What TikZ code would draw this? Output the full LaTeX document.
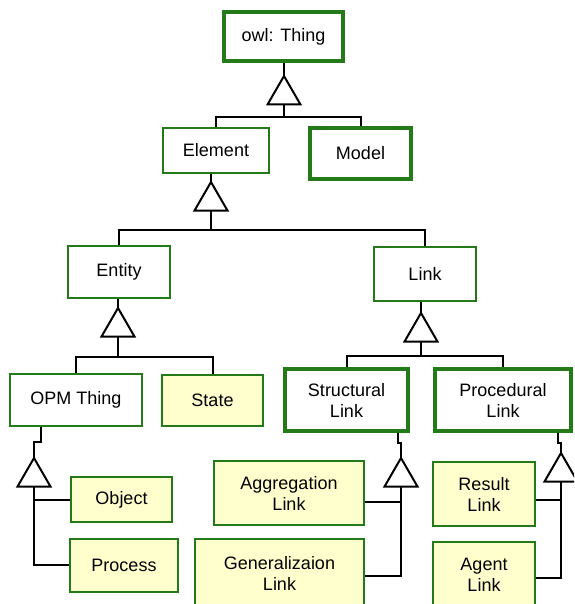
\documentclass[tikz,border=0pt]{standalone}
\usepackage{fontspec}
\setmainfont{Liberation Sans}
\usetikzlibrary{shapes.geometric}
\definecolor{boxgreen}{RGB}{36,122,24}
\definecolor{paleyellow}{RGB}{255,255,206}
\begin{document}
\begin{tikzpicture}[x=1pt,y=-1pt]
        \useasboundingbox (0,0) rectangle (574,604);
        \clip (0,0) rectangle (574,604);
        \tikzstyle{class}=[rectangle, draw=boxgreen, line width=2pt, fill=white, inner sep=2pt, align=center, font=\fontsize{18}{21}\selectfont, text=black]
        \tikzstyle{keyclass}=[class, line width=4pt]
        \tikzstyle{leaf}=[class, fill=paleyellow]
        \tikzstyle{isa}=[regular polygon, regular polygon sides=3, draw=black, line width=2pt, fill=white, minimum size=38pt, inner sep=0pt, outer sep=0pt]
        \tikzstyle{edge}=[black, line width=2pt]

        \node[keyclass, minimum width=119pt, minimum height=49pt] (thing)   at (283.5,36.5) {owl: Thing};
        \node[class,    minimum width=106pt, minimum height=45pt] (elem)    at (216,150.5)  {Element};
        \node[keyclass, minimum width=101pt, minimum height=51pt] (model)   at (360.5,153.5) {Model};
        \node[class,    minimum width=102pt, minimum height=52pt] (entity)  at (119,272)    {Entity};
        \node[class,    minimum width=102pt, minimum height=54pt] (link)    at (425,274)    {Link};
        \node[class,    minimum width=132pt, minimum height=52pt] (opm)     at (76,400)     {OPM Thing};
        \node[leaf,     minimum width=101pt, minimum height=51pt] (state)   at (212.5,400.5) {State};
        \node[keyclass, minimum width=123pt, minimum height=62pt] (struct)  at (346.5,400)  {Structural\\Link};
        \node[keyclass, minimum width=136pt, minimum height=62pt] (proc)    at (503,400)    {Procedural\\Link};
        \node[leaf,     minimum width=101pt, minimum height=45pt] (object)  at (121.5,499.5) {Object};
        \node[leaf,     minimum width=108pt, minimum height=53pt] (process) at (124,565)    {Process};
        \node[leaf,     minimum width=150pt, minimum height=64pt] (aggr)    at (289,493)    {Aggregation\\Link};
        \node[leaf,     minimum width=169pt, minimum height=68pt] (gener)   at (279.5,573)  {Generalizaion\\Link};
        \node[leaf,     minimum width=102pt, minimum height=64pt] (result)  at (484,494)    {Result\\Link};
        \node[leaf,     minimum width=102pt, minimum height=66pt] (agent)   at (484,575)    {Agent\\Link};

        \node[isa] (t1) at (284,95)  {};
        \node[isa] (t2) at (211,201) {};
        \node[isa] (t3) at (118,327) {};
        \node[isa] (t4) at (421,332) {};
        \node[isa] (t5) at (34,477)  {};
        \node[isa] (t6) at (401,477) {};
        \node[isa] (t7) at (561,472) {};

        \coordinate (j1) at (284,117);
        \coordinate (j2) at (211,230);
        \coordinate (j3) at (118,357);
        \coordinate (j4) at (421,356);

        \draw[edge] (t1.corner 1) -- (t1.corner 1 |- thing.south);
        \draw[edge] (t1.side 2) -- (j1);
        \draw[edge] (elem.north) |- (j1) -| (model.north);

        \draw[edge] (t2.corner 1) -- (t2.corner 1 |- elem.south);
        \draw[edge] (t2.side 2) -- (j2);
        \draw[edge] (entity.north) |- (j2) -| (link.north);

        \draw[edge] (t3.corner 1) -- (t3.corner 1 |- entity.south);
        \draw[edge] (t3.side 2) -- (j3);
        \draw[edge] (opm.north) |- (j3) -| (state.north);

        \draw[edge] (t4.corner 1) -- (t4.corner 1 |- link.south);
        \draw[edge] (t4.side 2) -- (j4);
        \draw[edge] (struct.north) |- (j4) -| (proc.north);

        \draw[edge] (t5.corner 1) -- ++(0,-16) -- ++(7,0) -- ++(0,-15);
        \draw[edge] (t5.side 2) |- (process.west);
        \draw[edge] (object.west) -| (t5.side 2);

        \draw[edge] (t6.corner 1) -- ++(0,-15) -- ++(-3,0) -- ++(0,-10);
        \draw[edge] (t6.side 2) |- ([yshift=-3pt]gener.east);
        \draw[edge] ([yshift=-9pt]aggr.east) -| (t6.side 2);

        \draw[edge] (t7.corner 1) -- ++(0,-10) -- ++(-3,0) -- ++(0,-10);
        \draw[edge] (t7.side 2) |- ([yshift=-3pt]agent.east);
        \draw[edge] ([yshift=-6pt]result.east) -| (t7.side 2);
\end{tikzpicture}
\end{document}
